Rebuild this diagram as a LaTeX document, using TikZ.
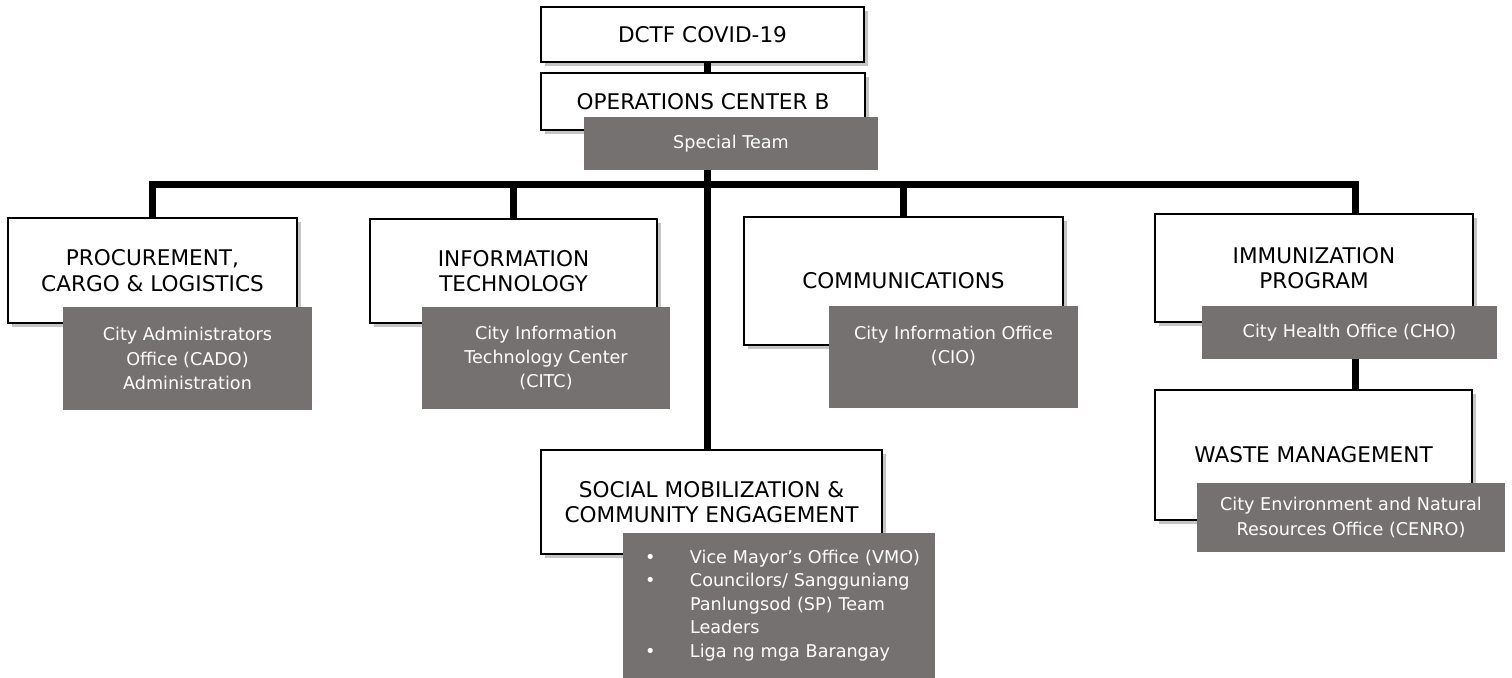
\documentclass[tikz,border=0pt]{standalone}
\usepackage{fontspec}
\setmainfont{DejaVu Sans}
\usetikzlibrary{shadows}

\definecolor{teamgray}{HTML}{767171}
\newcommand{\listdot}{\hspace*{8pt}\makebox[22.5pt][l]{•}}
\newcommand{\listgap}{\hspace*{30.5pt}}

\tikzset{
  unitbox/.style={draw, line width=0.9pt, fill=white, align=center,
    font=\fontsize{10.8}{12.8}\selectfont,
    drop shadow={shadow xshift=2pt, shadow yshift=-2pt, fill=black!45, opacity=0.5}},
  teambox/.style={fill=teamgray, text=white, align=center,
    font=\fontsize{8.8}{12.2}\selectfont},
  busline/.style={line width=3.5pt}
}

\begin{document}
\begin{tikzpicture}[x=0.5pt, y=-0.5pt]
\useasboundingbox (0,0) rectangle (1512,678);

\coordinate (hub) at (707,185);
\coordinate (rightdrop) at (1355,185);

% units
\node (dctf) [unitbox, minimum width=161.5pt, minimum height=27.5pt] at (702.5,34.5) {DCTF COVID-19};

\node (opscenter) [unitbox, minimum width=162pt, minimum height=28.5pt] at (703,101.5) {OPERATIONS CENTER B};

\node (procure) [unitbox, minimum width=144.5pt, minimum height=52.5pt] at (152.5,270.5) {PROCUREMENT,\\CARGO \& LOGISTICS};

\node (infotech) [unitbox, minimum width=143.5pt, minimum height=52pt] at (513.5,271) {INFORMATION\\TECHNOLOGY};

\node (comms) [unitbox, minimum width=159.5pt, minimum height=64pt] at (903.5,281) {COMMUNICATIONS};

\node (immun) [unitbox, minimum width=159pt, minimum height=54pt] at (1314,268) {IMMUNIZATION\\PROGRAM};

\node (waste) [unitbox, minimum width=158.5pt, minimum height=65pt] at (1313.5,455) {WASTE MANAGEMENT};

\node (social) [unitbox, minimum width=170.5pt, minimum height=52pt] at (711.5,502) {SOCIAL MOBILIZATION \&\\COMMUNITY ENGAGEMENT};

% offices
\node (special) [teambox, minimum width=147pt, minimum height=26.5pt] at (731,143.5) {Special Team};

\node (cado) [teambox, minimum width=124.5pt, minimum height=51.5pt] at (187.5,358.5) {City Administrators\\Office (CADO)\\Administration};

\node (citc) [teambox, minimum width=124pt, minimum height=51pt] at (546,358) {City Information\\Technology Center\\(CITC)};

\node (cio) [teambox, minimum width=124.5pt, minimum height=51pt] at (953.5,357) {City Information Office\\(CIO)\\~};

\node (cho) [teambox, minimum width=147.5pt, minimum height=26.5pt] at (1349.5,332.5) {City Health Office (CHO)};

\node (cenro) [teambox, minimum width=154pt, minimum height=34.5pt] at (1351,517.5) {City Environment and Natural\\Resources Office (CENRO)};

\node (sptasks) [teambox, align=left, text width=150pt, inner xsep=3pt,
    minimum width=156pt, minimum height=72.5pt,
    font=\fontsize{8.8}{11.75}\selectfont] at (779,605.5)
  {\listdot Vice Mayor’s Office (VMO)\\
   \listdot Councilors/ Sangguniang\\
   \listgap Panlungsod (SP) Team\\
   \listgap Leaders\\
   \listdot Liga ng mga Barangay};

% connectors
\draw [busline] (dctf.south -| hub) -- (opscenter.north -| hub);
\draw [busline] (special.south -| hub) -- (social.north -| hub);
\draw [busline] (procure.north) |- (rightdrop) -- (rightdrop |- immun.north);
\draw [busline] (infotech.north) -- (infotech.north |- hub);
\draw [busline] (comms.north) -- (comms.north |- hub);
\draw [busline] (cho.south -| rightdrop) -- (waste.north -| rightdrop);

\end{tikzpicture}
\end{document}
